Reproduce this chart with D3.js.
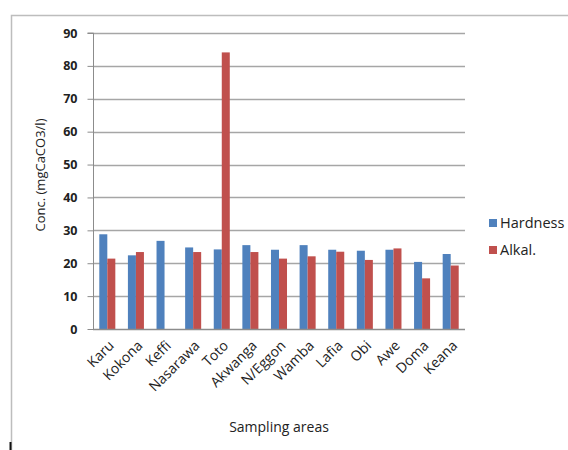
<!DOCTYPE html>
<html>
<head>
<meta charset="utf-8">
<script src="https://cdn.jsdelivr.net/npm/d3@7"></script>
<style>
  html, body { margin: 0; padding: 0; background: #fff; }
  svg { display: block; }
  text { font-family: "Open Sans", "Liberation Sans", sans-serif; fill: #222; }
</style>
</head>
<body>
<svg id="chart" width="568" height="450"></svg>
<script>
// Sampling areas and measured concentrations (mgCaCO3/l)
const areas = ["Karu", "Kokona", "Keffi", "Nasarawa", "Toto", "Akwanga", "N/Eggon",
               "Wamba", "Lafia", "Obi", "Awe", "Doma", "Keana"];
const hardness = [28.8, 22.4, 26.8, 24.8, 24.2, 25.5, 24.1, 25.5, 24.1, 23.8, 24.1, 20.4, 22.8];
const alkalinity = [21.4, 23.4, null, 23.4, 84.1, 23.4, 21.4, 22.1, 23.5, 21.0, 24.5, 15.4, 19.3];
const seriesNames = ["Hardness", "Alkal."];
const yTicks = [0, 10, 20, 30, 40, 50, 60, 70, 80, 90];

const colors = { "Hardness": "#4F81BD", "Alkal.": "#C0504D" };
const svg = d3.select("#chart");

// outer chart frame (top and left edges)
svg.append("path")
  .attr("d", "M11.5,450 V15.5 H568")
  .attr("fill", "none").attr("stroke", "#bdbdbd").attr("stroke-width", 1.5);
svg.append("line")
  .attr("x1", 10.5).attr("x2", 10.5).attr("y1", 442).attr("y2", 450)
  .attr("stroke", "#111").attr("stroke-width", 2);

const plot = { left: 93, right: 465, top: 33, bottom: 329 };

const x0 = d3.scaleBand().domain(areas)
  .range([plot.left, plot.right]).paddingInner(0.44).paddingOuter(0.22);
const x1 = d3.scaleBand().domain(seriesNames).range([0, x0.bandwidth()]);
const y = d3.scaleLinear().domain([0, 90]).range([plot.bottom, plot.top]);

// horizontal gridlines
svg.append("g").selectAll("line").data(yTicks.filter(t => t > 0)).join("line")
  .attr("x1", plot.left).attr("x2", plot.right)
  .attr("y1", d => Math.round(y(d)) + 0.5).attr("y2", d => Math.round(y(d)) + 0.5)
  .attr("stroke", "#a6a6a6").attr("stroke-width", 1.3);

// y axis
const yAxis = svg.append("g")
  .attr("transform", `translate(${plot.left + 0.5},0)`)
  .call(d3.axisLeft(y).tickValues(yTicks).tickSize(6).tickPadding(10).tickFormat(d3.format("d")));
yAxis.select(".domain").attr("stroke", "#8c8c8c").attr("d", `M-6,${y(90)}H0V${y(0)}`);
yAxis.selectAll(".tick line").attr("stroke", "#8c8c8c");
yAxis.selectAll(".tick text")
  .attr("font-size", 12.5).attr("font-weight", "bold").attr("fill", "#1f2633")
  .style("font-family", "'Open Sans', sans-serif");

// grouped bars
const rows = areas.map((a, i) => ({ area: a, values: [
  { key: "Hardness", value: hardness[i] },
  { key: "Alkal.", value: alkalinity[i] }
]}));

svg.append("g").selectAll("g").data(rows).join("g")
  .attr("transform", d => `translate(${x0(d.area)},0)`)
  .selectAll("rect").data(d => d.values.filter(v => v.value != null)).join("rect")
  .attr("x", d => x1(d.key))
  .attr("y", d => y(d.value))
  .attr("width", x1.bandwidth())
  .attr("height", d => y(0) - y(d.value))
  .attr("fill", d => colors[d.key]);

// x axis line
svg.append("line")
  .attr("x1", plot.left).attr("x2", plot.right)
  .attr("y1", plot.bottom + 0.5).attr("y2", plot.bottom + 0.5)
  .attr("stroke", "#8c8c8c").attr("stroke-width", 1.3);

// rotated category labels
svg.append("g").selectAll("text").data(areas).join("text")
  .attr("transform", d => `translate(${x0(d) + x0.bandwidth() / 2 + 4},${plot.bottom + 14}) rotate(-45)`)
  .attr("text-anchor", "end")
  .attr("dy", "0.35em")
  .attr("font-size", 14)
  .text(d => d);

// axis titles
svg.append("text")
  .attr("x", (plot.left + plot.right) / 2).attr("y", 432)
  .attr("text-anchor", "middle").attr("font-size", 14)
  .text("Sampling areas");

svg.append("text")
  .attr("transform", "translate(45,175) rotate(-90)")
  .attr("text-anchor", "middle").attr("font-size", 13)
  .text("Conc. (mgCaCO3/l)");

// legend
const legend = svg.append("g").selectAll("g").data(seriesNames).join("g")
  .attr("transform", (d, i) => `translate(489,${219 + i * 27})`);
legend.append("rect").attr("width", 8).attr("height", 8).attr("fill", d => colors[d]);
legend.append("text").attr("x", 11).attr("y", 4).attr("dy", "0.35em")
  .attr("font-size", 14.5).text(d => d);
</script>
</body>
</html>
